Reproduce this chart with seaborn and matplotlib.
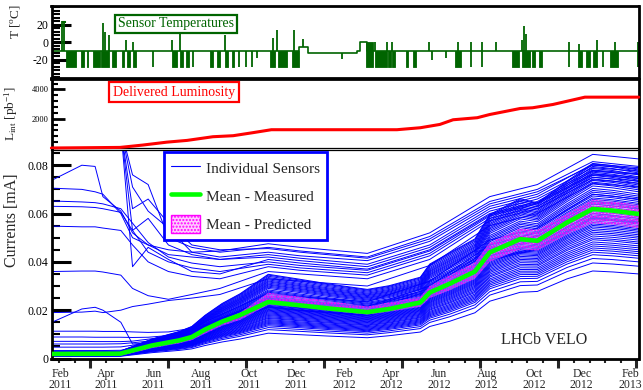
import numpy as np
import pandas as pd
import matplotlib
matplotlib.use("Agg")
import matplotlib.pyplot as plt
import matplotlib.dates as mdates
from matplotlib.lines import Line2D
from matplotlib.patches import Patch
from matplotlib.ticker import FixedLocator, MultipleLocator, NullFormatter
import seaborn as sns

# ---------------- sensor temperatures [deg C] ----------------
temp_base_dates = ["2011-01-21", "2011-12-05", "2011-12-16", "2012-02-17",
                   "2012-02-20", "2012-02-29", "2013-02-12"]
temp_base_level = [-10, -5, -12, -10, 0, -10, -10]

# periods of rapid cooling cycles (trace toggles down to about -28 C)
cold_block_start = ["2011-02-09", "2011-02-28", "2011-03-07", "2011-03-15", "2011-03-25",
                    "2011-04-09", "2011-04-21", "2011-04-28", "2011-05-05", "2011-06-24",
                    "2011-07-05", "2011-07-12", "2011-08-12", "2011-08-21", "2011-08-31",
                    "2011-09-09", "2011-10-28", "2011-11-08", "2011-11-25", "2012-02-28",
                    "2012-03-11", "2012-03-28", "2012-04-02", "2012-04-20", "2012-04-28",
                    "2012-06-21", "2012-09-03", "2012-09-15", "2012-09-28", "2012-10-07",
                    "2012-11-26", "2012-12-07", "2012-12-15", "2013-01-06"]
cold_block_end = ["2011-02-22", "2011-03-04", "2011-03-09", "2011-03-24", "2011-04-05",
                  "2011-04-14", "2011-04-24", "2011-05-02", "2011-05-10", "2011-07-01",
                  "2011-07-09", "2011-07-16", "2011-08-16", "2011-08-25", "2011-09-04",
                  "2011-09-12", "2011-11-04", "2011-11-19", "2011-12-04", "2012-03-08",
                  "2012-03-26", "2012-03-31", "2012-04-06", "2012-04-22", "2012-05-03",
                  "2012-06-29", "2012-09-12", "2012-09-25", "2012-10-02", "2012-10-11",
                  "2012-12-01", "2012-12-11", "2012-12-20", "2013-01-17"]
cold_level = -28.5

# isolated excursions of the trace
excursion_dates = ["2011-02-04", "2011-02-06", "2011-03-28", "2011-03-31", "2011-04-05",
                   "2011-04-27", "2011-05-06", "2011-05-31", "2011-06-24", "2011-07-05",
                   "2011-07-21", "2011-08-31", "2011-09-19", "2011-09-28", "2011-10-05",
                   "2011-10-11", "2011-11-01", "2011-11-06", "2011-11-28", "2011-12-10",
                   "2012-01-28", "2012-03-11", "2012-03-26", "2012-04-02", "2012-05-19",
                   "2012-05-23", "2012-06-10", "2012-06-25", "2012-07-12", "2012-07-12",
                   "2012-07-26", "2012-07-26", "2012-08-13", "2012-09-15", "2012-09-18",
                   "2012-09-21", "2012-11-14", "2012-11-14", "2012-11-28", "2012-12-20",
                   "2012-12-28", "2013-01-13", "2013-02-11", "2013-02-11"]
excursion_temp = [24, 24, 22, 12, 8,
                  3, 1, -28.5, 3, 10,
                  -28.5, 8, -28.5, -28.5, -28.5,
                  -18, 5, 14, 14, 4,
                  -19, 0, 0, 0, 0,
                  -20, -18, 0, 0, -28.5,
                  1, -28.5, 0, 3, 19,
                  10, 0, -28.5, -2, 3,
                  -28.5, 1, 1, -28.5]

# ---------------- delivered luminosity [pb^-1] ----------------
lumi_dates = ["2011-01-21", "2011-04-19", "2011-05-18", "2011-06-18", "2011-07-14",
              "2011-08-16", "2011-09-11", "2011-10-06", "2011-10-30", "2012-04-08",
              "2012-05-08", "2012-06-02", "2012-06-19", "2012-07-20", "2012-08-05",
              "2012-09-13", "2012-09-29", "2012-10-25", "2012-12-05", "2013-02-12"]
lumi_values = [0, 40, 200, 400, 520, 770, 840, 1045, 1250, 1250,
               1385, 1610, 1930, 2070, 2290, 2700, 2750, 2975, 3475, 3475]

# ---------------- leakage currents [mA] ----------------
mean_dates = ["2011-01-21", "2011-04-19", "2011-05-30", "2011-07-04", "2011-07-20",
              "2011-08-06", "2011-08-28", "2011-09-20", "2011-10-26", "2011-12-06",
              "2012-01-12", "2012-03-01", "2012-03-29", "2012-05-08", "2012-05-20",
              "2012-06-15", "2012-07-17", "2012-08-05", "2012-09-13", "2012-10-05",
              "2012-11-12", "2012-12-15", "2013-01-10", "2013-02-12"]
mean_current = [0.0019, 0.0020, 0.0054, 0.0075, 0.0089, 0.0120, 0.0153, 0.0180,
                0.0234, 0.0220, 0.0207, 0.0192, 0.0205, 0.0232, 0.0273, 0.0310,
                0.0360, 0.0439, 0.0494, 0.0487, 0.0563, 0.0619, 0.0612, 0.0598]
pred_lower = [0.0010, 0.0011, 0.0043, 0.0063, 0.0076, 0.0103, 0.0136, 0.0160,
              0.0222, 0.0212, 0.0198, 0.0182, 0.0194, 0.0214, 0.0250, 0.0283,
              0.0330, 0.0400, 0.0452, 0.0447, 0.0513, 0.0560, 0.0553, 0.0540]
pred_upper = [0.0020, 0.0021, 0.0055, 0.0077, 0.0091, 0.0124, 0.0160, 0.0190,
              0.0272, 0.0255, 0.0238, 0.0215, 0.0232, 0.0256, 0.0300, 0.0345,
              0.0398, 0.0480, 0.0538, 0.0532, 0.0600, 0.0658, 0.0650, 0.0636]
# how widely the sensors fan out around the mean (log-ratio stretch) at each date
bulk_spread = [1.5, 1.5, 1.5, 1.5, 1.5, 1.5, 1.5, 1.5,
               1.5, 1.5, 1.5, 1.5, 1.45, 1.4, 1.35, 1.3,
               1.2, 1.15, 1.1, 1.05, 1.0, 1.0, 1.0, 1.0]

# sensors that follow the common fluence profile: current at the last reading
bulk_end_current = [0.0780, 0.0775, 0.0768, 0.0760, 0.0752, 0.0745, 0.0738, 0.0732,
                    0.0725, 0.0718, 0.0712, 0.0705, 0.0698, 0.0690, 0.0680, 0.0672,
                    0.0665, 0.0657, 0.0650, 0.0642, 0.0636, 0.0630, 0.0623, 0.0617,
                    0.0610, 0.0604, 0.0593, 0.0587, 0.0580, 0.0574, 0.0568, 0.0562,
                    0.0556, 0.0550, 0.0544, 0.0538, 0.0532, 0.0526, 0.0519, 0.0512,
                    0.0505, 0.0498, 0.0490, 0.0482, 0.0475, 0.0466, 0.0458, 0.0450,
                    0.0442, 0.0434, 0.0425, 0.0415, 0.0400, 0.0382, 0.0350]

# sensors with individual histories (high initial currents etc.)
special_dates = ["2011-01-21", "2011-03-01", "2011-03-18", "2011-03-28", "2011-04-20",
                 "2011-05-05", "2011-05-25", "2011-06-20", "2011-07-20", "2011-08-25",
                 "2011-10-26", "2011-12-06", "2012-03-01", "2012-05-20", "2012-08-05",
                 "2012-10-05", "2012-12-15", "2013-02-12"]
special_a1 = [0.0737, 0.0800, 0.0795, 0.0670, 0.0610, 0.0520, 0.0470, 0.0450, 0.0440,
              0.0445, 0.0475, 0.0460, 0.0435, 0.0520, 0.0670, 0.0720, 0.0845, 0.0826]
special_h1 = [0.095, 0.095, 0.095, 0.095, 0.095, 0.076, 0.072, 0.050, 0.046,
              0.044, 0.0460, 0.0445, 0.0420, 0.0505, 0.0650, 0.0700, 0.0815, 0.0795]
special_h2 = [0.095, 0.095, 0.095, 0.095, 0.095, 0.062, 0.066, 0.056, 0.047,
              0.045, 0.0455, 0.0440, 0.0415, 0.0495, 0.0640, 0.0690, 0.0800, 0.0785]
special_h3 = [0.095, 0.095, 0.095, 0.095, 0.095, 0.053, 0.058, 0.047, 0.043,
              0.041, 0.0430, 0.0415, 0.0390, 0.0470, 0.0620, 0.0670, 0.0790, 0.0775]
special_h4 = [0.095, 0.095, 0.095, 0.095, 0.095, 0.038, 0.046, 0.041, 0.036,
              0.035, 0.0410, 0.0395, 0.0370, 0.0450, 0.0600, 0.0650, 0.0775, 0.0762]
special_h5 = [0.095, 0.095, 0.095, 0.095, 0.095, 0.071, 0.061, 0.054, 0.044,
              0.042, 0.0440, 0.0425, 0.0405, 0.0485, 0.0630, 0.0680, 0.0805, 0.0790]
special_m1 = [0.0705, 0.0700, 0.0690, 0.0680, 0.0600, 0.0500, 0.0470, 0.0430, 0.0420,
              0.0410, 0.0420, 0.0405, 0.0380, 0.0460, 0.0610, 0.0660, 0.0780, 0.0765]
special_m2 = [0.0652, 0.0648, 0.0645, 0.0640, 0.0620, 0.0560, 0.0480, 0.0420, 0.0395,
              0.0380, 0.0400, 0.0385, 0.0365, 0.0445, 0.0595, 0.0645, 0.0765, 0.0750]
special_m3 = [0.0630, 0.0628, 0.0625, 0.0620, 0.0605, 0.0530, 0.0440, 0.0400, 0.0375,
              0.0360, 0.0390, 0.0375, 0.0355, 0.0435, 0.0590, 0.0640, 0.0760, 0.0745]
special_m4 = [0.0548, 0.0545, 0.0545, 0.0540, 0.0530, 0.0470, 0.0400, 0.0360, 0.0340,
              0.0330, 0.0380, 0.0365, 0.0345, 0.0425, 0.0580, 0.0630, 0.0750, 0.0735]
special_m5 = [0.0360, 0.0362, 0.0362, 0.0358, 0.0345, 0.0290, 0.0260, 0.0245, 0.0265,
              0.0290, 0.0360, 0.0350, 0.0330, 0.0410, 0.0570, 0.0620, 0.0740, 0.0725]
special_m6 = [0.0190, 0.0192, 0.0196, 0.0190, 0.0200, 0.0215, 0.0225, 0.0240, 0.0250,
              0.0265, 0.0330, 0.0320, 0.0300, 0.0385, 0.0550, 0.0600, 0.0725, 0.0710]
special_m7 = [0.0149, 0.0205, 0.0212, 0.0200, 0.0150, 0.0060, 0.0065, 0.0080, 0.0100,
              0.0160, 0.0250, 0.0235, 0.0215, 0.0300, 0.0470, 0.0520, 0.0650, 0.0630]
special_m8 = [0.0113, 0.0113, 0.0113, 0.0112, 0.0112, 0.0110, 0.0108, 0.0110, 0.0125,
              0.0180, 0.0270, 0.0255, 0.0235, 0.0320, 0.0490, 0.0540, 0.0680, 0.0660]
special_m9 = [0.0089, 0.0089, 0.0088, 0.0088, 0.0088, 0.0087, 0.0088, 0.0095, 0.0115,
              0.0165, 0.0245, 0.0230, 0.0210, 0.0290, 0.0455, 0.0505, 0.0640, 0.0620]
special_m10 = [0.0071, 0.0071, 0.0070, 0.0070, 0.0070, 0.0072, 0.0080, 0.0090, 0.0105,
               0.0160, 0.0240, 0.0225, 0.0200, 0.0280, 0.0445, 0.0495, 0.0625, 0.0605]
special_m11 = [0.0060, 0.0060, 0.0060, 0.0060, 0.0061, 0.0065, 0.0072, 0.0082, 0.0098,
               0.0150, 0.0225, 0.0210, 0.0190, 0.0265, 0.0425, 0.0475, 0.0600, 0.0580]
special_m12 = [0.0047, 0.0047, 0.0047, 0.0047, 0.0048, 0.0055, 0.0064, 0.0075, 0.0092,
               0.0140, 0.0215, 0.0200, 0.0180, 0.0255, 0.0410, 0.0460, 0.0585, 0.0565]
special_m13 = [0.0033, 0.0033, 0.0033, 0.0033, 0.0034, 0.0045, 0.0058, 0.0070, 0.0090,
               0.0138, 0.0212, 0.0198, 0.0178, 0.0250, 0.0405, 0.0455, 0.0580, 0.0560]
special_sensors = [special_a1, special_h1, special_h2, special_h3, special_h4, special_h5,
                   special_m1, special_m2, special_m3, special_m4, special_m5, special_m6,
                   special_m7, special_m8, special_m9, special_m10, special_m11,
                   special_m12, special_m13]

# ---------------- styling ----------------
sns.set_style("white")
plt.rcParams["font.family"] = ["Liberation Serif", "DejaVu Serif"]
plt.rcParams["mathtext.fontset"] = "custom"
plt.rcParams["mathtext.rm"] = "Liberation Serif"
plt.rcParams["mathtext.it"] = "Liberation Serif:italic"
plt.rcParams["axes.unicode_minus"] = False
plt.rcParams["hatch.color"] = "#ff00ff"
plt.rcParams["hatch.linewidth"] = 1.0

DKGREEN = "#006400"
BLUE = "#0000ff"
LIME = "#00ff00"
MAGENTA = "#ff00ff"

fig = plt.figure(figsize=(6.43, 3.90), dpi=100)
W, H = 643.0, 390.0
x0, x1 = 51.5, 638.5


def add_panel(top_px, bottom_px):
    return fig.add_axes([x0 / W, 1 - bottom_px / H, (x1 - x0) / W, (bottom_px - top_px) / H])


axT = add_panel(6, 78)
axL = add_panel(78.5, 148)
axI = add_panel(150, 358.5)

t0 = mdates.date2num(pd.Timestamp("2011-02-01"))
xlim = (t0 - 10.9, t0 + 741.7)

# ---------------- temperature panel ----------------
base_t = pd.to_datetime(temp_base_dates)


def base_at(t):
    i = base_t.searchsorted(t, side="right") - 1
    return temp_base_level[i]


for s, e in zip(pd.to_datetime(cold_block_start), pd.to_datetime(cold_block_end)):
    b = base_at(s)
    axT.fill_between([s, e], [cold_level, cold_level], [b, b], color=DKGREEN, lw=0.6)

exc_t = pd.to_datetime(excursion_dates)
axT.vlines(exc_t, [base_at(t) for t in exc_t], excursion_temp, color=DKGREEN, lw=1.3)
# short plateau at the very start
axT.fill_between(pd.to_datetime(["2011-02-04", "2011-02-07"]), [23.5, 23.5], [24.5, 24.5],
                 color=DKGREEN, lw=0.8)
sns.lineplot(x=base_t, y=temp_base_level, drawstyle="steps-post", color=DKGREEN,
             lw=1.2, ax=axT)
axT.set_ylim(-40.8, 41.7)
axT.yaxis.set_major_locator(FixedLocator([-20, 0, 20]))
axT.yaxis.set_minor_locator(MultipleLocator(4))
axT.set_ylabel("T [$^{\\mathrm{o}}$C]", fontsize=9.5)
axT.yaxis.set_label_coords(-0.050, 0.78)
axT.text(0.212, 0.75, "Sensor Temperatures", transform=axT.transAxes, ha="center",
         va="center", fontsize=10, color=DKGREEN,
         bbox=dict(boxstyle="square,pad=0.2", fc="white", ec=DKGREEN, lw=1.6))

# ---------------- luminosity panel ----------------
sns.lineplot(x=pd.to_datetime(lumi_dates), y=lumi_values, color="#ff0000", lw=2.2,
             ax=axL, clip_on=False, zorder=5)
axL.set_ylim(0, 4750)
axL.yaxis.set_major_locator(FixedLocator([2000, 4000]))
axL.yaxis.set_minor_locator(MultipleLocator(400))
axL.set_ylabel("L$_{\\mathrm{int}}$ [pb$^{-1}$]", fontsize=9.5)
axL.yaxis.set_label_coords(-0.054, 0.5)
axL.text(0.2087, 0.80, "Delivered Luminosity", transform=axL.transAxes, ha="center",
         va="center", fontsize=10, color="#ff0000",
         bbox=dict(boxstyle="square,pad=0.25", fc="white", ec="#ff0000", lw=1.6))

# ---------------- currents panel ----------------
rows = []
mean_arr = np.array(mean_current)
spread_arr = np.array(bulk_spread)
mdt = pd.to_datetime(mean_dates)
for k, end in enumerate(bulk_end_current):
    ratio = (end / mean_arr[-1]) ** spread_arr
    for d, v in zip(mdt, mean_arr * ratio):
        rows.append((d, v, f"b{k}"))
sdt = pd.to_datetime(special_dates)
for k, vals in enumerate(special_sensors):
    for d, v in zip(sdt, vals):
        rows.append((d, v, f"s{k}"))
sensors = pd.DataFrame(rows, columns=["date", "current", "sensor"])

sns.lineplot(data=sensors, x="date", y="current", units="sensor", estimator=None,
             color=BLUE, lw=0.7, ax=axI, legend=False)
axI.fill_between(mdt, pred_lower, pred_upper, facecolor=(1.0, 0.55, 1.0, 0.45),
                 edgecolor=MAGENTA, hatch=".....", lw=0, zorder=3)
sns.lineplot(x=mdt, y=mean_current, color=LIME, lw=3.3, ax=axI, zorder=4)
axI.set_ylim(0, 0.0863)
axI.yaxis.set_major_locator(FixedLocator([0, 0.02, 0.04, 0.06, 0.08]))
axI.set_yticklabels(["0", "0.02", "0.04", "0.06", "0.08"])
axI.yaxis.set_minor_locator(MultipleLocator(0.005))
axI.set_ylabel("Currents [mA]", fontsize=11.5)
axI.yaxis.set_label_coords(-0.054, 0.663)
axI.text(0.839, 0.089, "LHCb VELO", transform=axI.transAxes, ha="center", va="center",
         fontsize=11.5)

handles = [Line2D([], [], color=BLUE, lw=0.8),
           Line2D([], [], color=LIME, lw=3.3),
           Patch(facecolor=(1.0, 0.55, 1.0, 0.45), edgecolor=MAGENTA, hatch=".....", lw=1.0)]
leg = axI.legend(handles, ["Individual Sensors", "Mean - Measured", "Mean - Predicted"],
                 loc="upper left", bbox_to_anchor=(0.1917, 0.99), borderaxespad=0,
                 fontsize=11, frameon=True, fancybox=False, framealpha=1,
                 edgecolor=BLUE, handlelength=1.85, handleheight=1.4,
                 handletextpad=0.4, labelspacing=0.68, borderpad=0.48)
leg.get_frame().set_linewidth(2.0)
leg.set_zorder(10)

# ---------------- axes cosmetics ----------------
for ax in (axT, axL, axI):
    ax.set_xlim(xlim)
    ax.set_xlabel("")
    for sp in ax.spines.values():
        sp.set_linewidth(2.0)
        sp.set_color("black")
    ax.tick_params(axis="y", which="both", direction="in", left=True, right=False,
                   colors="black", pad=2)
    ax.set_facecolor("white")
axL.spines["bottom"].set_linewidth(0.9)
axI.spines["top"].set_linewidth(0.9)

axT.tick_params(axis="y", which="major", length=14, width=2.2, labelsize=8.5)
axT.tick_params(axis="y", which="minor", length=6, width=1.5)
axL.tick_params(axis="y", which="major", length=9.5, width=2.0, labelsize=6)
axL.tick_params(axis="y", which="minor", length=4.5, width=1.5)
axI.tick_params(axis="y", which="major", length=14, width=2.2, labelsize=8.5)
axI.tick_params(axis="y", which="minor", length=6, width=1.5)

for ax in (axT, axL):
    ax.tick_params(axis="x", which="both", bottom=False, top=False, labelbottom=False)

# date axis: long ticks every 100 days, short ticks every 20 days
short_ticks = pd.date_range("2011-01-31", "2013-02-12", freq="20D")
long_ticks = pd.date_range("2011-03-12", "2013-02-12", freq="100D")
axI.xaxis.set_major_locator(FixedLocator(mdates.date2num(long_ticks)))
axI.xaxis.set_minor_locator(FixedLocator(mdates.date2num(short_ticks)))
axI.xaxis.set_major_formatter(NullFormatter())
axI.xaxis.set_minor_formatter(NullFormatter())
axI.tick_params(axis="x", which="major", direction="out", length=6.5, width=2.2,
                bottom=True, top=False)
axI.tick_params(axis="x", which="minor", direction="out", length=3, width=1.5,
                bottom=True, top=False)

label_dates = pd.date_range("2011-02-01", "2013-02-01", freq="2MS")
sec = axI.secondary_xaxis("bottom")
sec.set_xticks(mdates.date2num(label_dates),
               labels=[f"{d:%b}\n{d:%Y}" for d in label_dates])
sec.tick_params(axis="x", length=0, pad=6.5, labelsize=8.5)
sec.spines["bottom"].set_visible(False)
for t in sec.get_xticklabels():
    t.set_linespacing(0.9)

fig.savefig("out.png", dpi=100, facecolor="white")
